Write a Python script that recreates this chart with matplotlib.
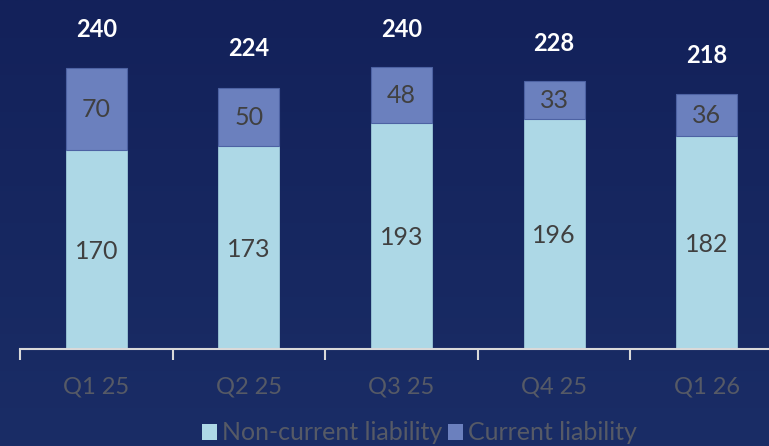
import numpy as np
import matplotlib.pyplot as plt
from matplotlib.colors import LinearSegmentedColormap
from matplotlib.patches import Patch

quarters = ["Q1 25", "Q2 25", "Q3 25", "Q4 25", "Q1 26"]
non_current = [170, 173, 193, 196, 182]
current = [70, 50, 48, 33, 36]
totals = [240, 224, 240, 228, 218]

plt.rcParams['font.family'] = ['Lato', 'DejaVu Sans']

fig = plt.figure(figsize=(7.69, 4.46), dpi=100)

# navy gradient background
bg = fig.add_axes([0, 0, 1, 1], zorder=-10)
cmap = LinearSegmentedColormap.from_list("navy", ["#13215a", "#1a2d66"])
bg.imshow(np.linspace(0, 1, 256).reshape(-1, 1), aspect="auto", cmap=cmap,
          extent=[0, 1, 0, 1])
bg.axis("off")

ax = fig.add_axes([20 / 769, 97 / 446, 763 / 769, 349 / 446])
ax.patch.set_alpha(0)
x = np.arange(len(quarters))
w = 0.4
ax.bar(x, non_current, w, color="#add8e6", edgecolor="#9cc8d8", linewidth=0.6,
       label="Non-current liability")
ax.bar(x, current, w, bottom=non_current, color="#6b80be", edgecolor="#4d62a3",
       linewidth=0.8, label="Current liability")

for i in range(len(quarters)):
    ax.text(x[i], non_current[i] / 2 - 1.5, str(non_current[i]), ha="center",
            va="center", fontsize=18, color="#404040")
    ax.text(x[i], non_current[i] + current[i] / 2 - 0.5, str(current[i]),
            ha="center", va="center", fontsize=18, color="#404040")
    ax.text(x[i], totals[i] + 33, str(totals[i]), ha="center", va="center",
            fontsize=17, fontweight="bold", color="white")

ax.set_xlim(-0.5, 4.5)
ax.set_ylim(0, 298)
for s in ["top", "right", "left"]:
    ax.spines[s].set_visible(False)
ax.spines["bottom"].set_color("#d9d9d9")
ax.spines["bottom"].set_linewidth(1.5)
ax.set_yticks([])
ax.set_xticks(np.arange(-0.5, 5, 1), minor=False)
ax.set_xticklabels([])
ax.set_xticks(x, minor=True)
ax.set_xticklabels(quarters, minor=True)
ax.tick_params(axis="x", which="major", length=8, width=1.5, color="#d9d9d9",
               direction="out")
ax.tick_params(axis="x", which="minor", length=0, pad=20, labelsize=17,
               labelcolor="#565a66")

handles = [Patch(facecolor="#add8e6", label="Non-current liability"),
           Patch(facecolor="#6b80be", label="Current liability")]
fig.legend(handles=handles, loc="center", bbox_to_anchor=(0.5455, 13 / 446), ncol=2,
           frameon=False, fontsize=18, labelcolor="#565a66", handlelength=0.6,
           handleheight=0.6, handletextpad=0.2, columnspacing=0.2)

fig.savefig("out.png", dpi=100)
